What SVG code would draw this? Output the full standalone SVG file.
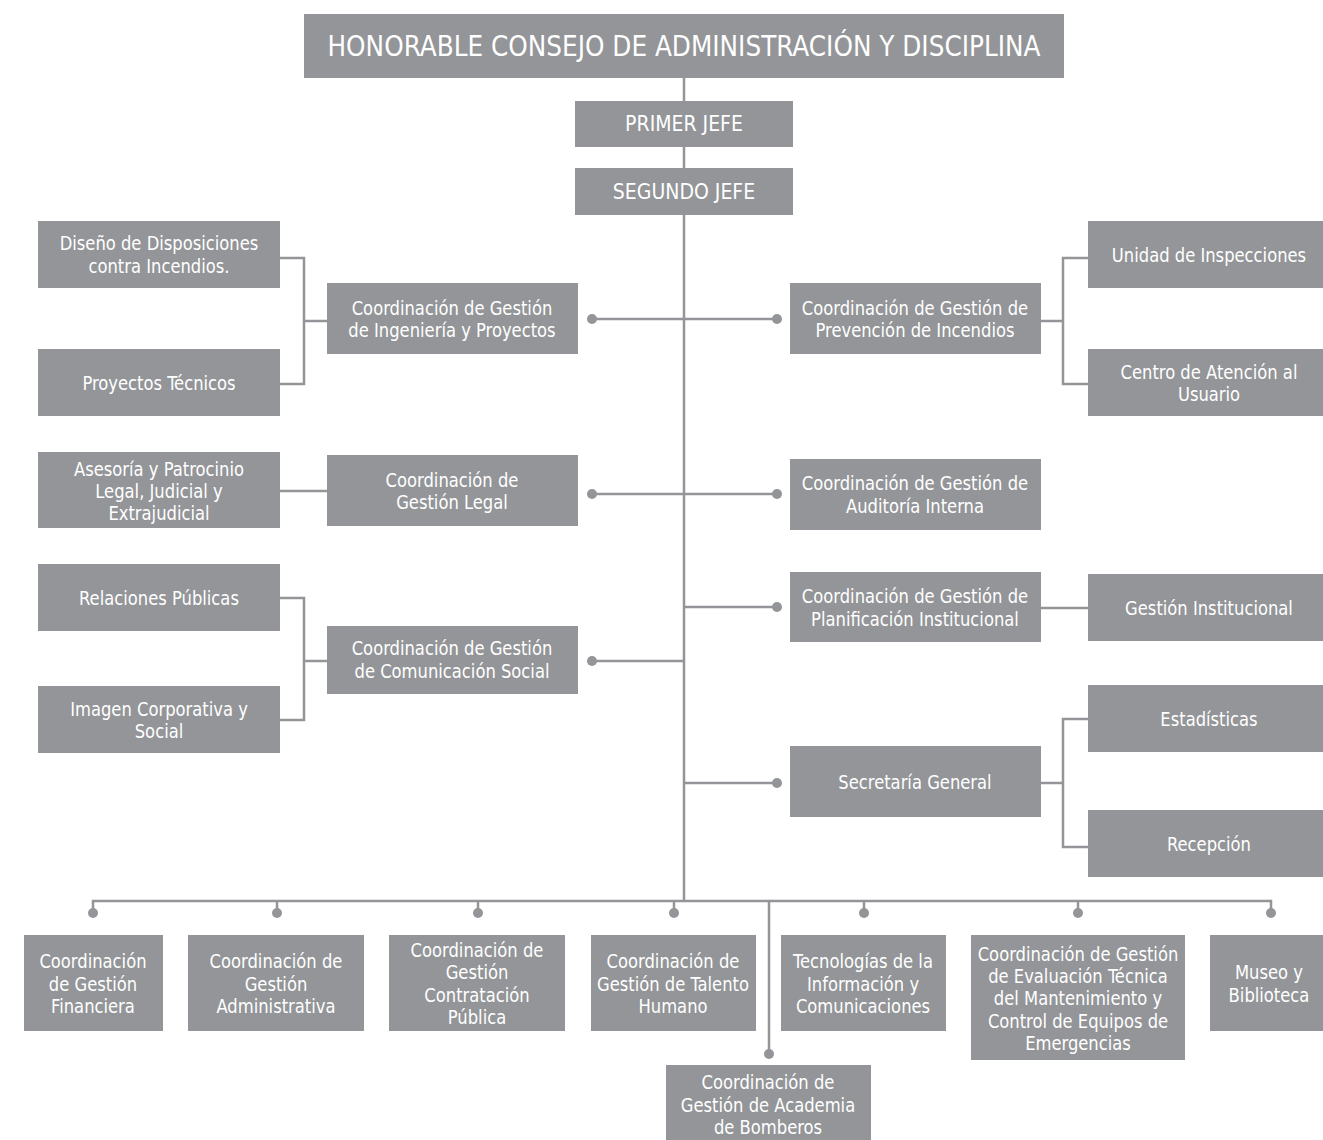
<svg xmlns="http://www.w3.org/2000/svg" width="1323" height="1140" viewBox="0 0 1323 1140">
<style>
.b{fill:#939598}
.t{font-family:"Liberation Sans Narrow","DejaVu Sans Condensed","Liberation Sans",sans-serif;font-size:20px;fill:#fff;text-anchor:middle}
.c{stroke:#939598;stroke-width:2.5;fill:none}
.d{fill:#939598}
</style>
<rect width="1323" height="1140" fill="#fff"/>
<g id="connectors">
<path class="c" d="M684 78V901"/>
<path class="c" d="M592 319H777M592 494H777M684 607H777M592 661H684M684 783H777"/>
<path class="c" d="M280 258H304V384H280M304 321H327"/>
<path class="c" d="M280 491H327"/>
<path class="c" d="M280 598H304V720H280M304 661H327"/>
<path class="c" d="M1088 258H1063V384H1088M1041 321H1063"/>
<path class="c" d="M1041 608H1088"/>
<path class="c" d="M1088 719H1063V847H1088M1041 783H1063"/>
<path class="c" d="M93 913V901H1271V913M277 901V913M478 901V913M674 901V913M864 901V913M1078 901V913M769 901V1054"/>
<g class="d">
<circle cx="592" cy="319" r="5"/><circle cx="777" cy="319" r="5"/>
<circle cx="592" cy="494" r="5"/><circle cx="777" cy="494" r="5"/>
<circle cx="777" cy="607" r="5"/><circle cx="592" cy="661" r="5"/>
<circle cx="777" cy="783" r="5"/>
<circle cx="93" cy="913" r="5"/><circle cx="277" cy="913" r="5"/><circle cx="478" cy="913" r="5"/>
<circle cx="674" cy="913" r="5"/><circle cx="864" cy="913" r="5"/><circle cx="1078" cy="913" r="5"/>
<circle cx="1271" cy="913" r="5"/><circle cx="769" cy="1054" r="5"/>
</g>
</g>
<g id="n-consejo"><rect class="b" x="304" y="14" width="760" height="64"/><g transform="matrix(.95 0 0 1 34.2 0)"><text class="t" x="684" y="56" style="font-size:29px">HONORABLE CONSEJO DE ADMINISTRACIÓN Y DISCIPLINA</text></g></g>
<g id="n-primer"><rect class="b" x="575" y="101" width="218" height="46"/><text class="t" x="684" y="131" style="font-size:21px">PRIMER JEFE</text></g>
<g id="n-segundo"><rect class="b" x="575" y="168" width="218" height="47"/><text class="t" x="684" y="199" style="font-size:21px">SEGUNDO JEFE</text></g>
<g id="n-diseno"><rect class="b" x="38" y="221" width="242" height="67"/><g transform="matrix(.91 0 0 1 14.31 0)"><text class="t" x="159" y="250">Diseño de Disposiciones</text><text class="t" x="159" y="273">contra Incendios.</text></g></g>
<g id="n-proyectos"><rect class="b" x="38" y="349" width="242" height="67"/><g transform="matrix(.91 0 0 1 14.31 0)"><text class="t" x="159" y="390">Proyectos Técnicos</text></g></g>
<g id="n-asesoria"><rect class="b" x="38" y="452" width="242" height="76"/><g transform="matrix(.91 0 0 1 14.31 0)"><text class="t" x="159" y="476">Asesoría y Patrocinio</text><text class="t" x="159" y="498">Legal, Judicial y</text><text class="t" x="159" y="520">Extrajudicial</text></g></g>
<g id="n-relaciones"><rect class="b" x="38" y="564" width="242" height="67"/><g transform="matrix(.91 0 0 1 14.31 0)"><text class="t" x="159" y="605">Relaciones Públicas</text></g></g>
<g id="n-imagen"><rect class="b" x="38" y="686" width="242" height="67"/><g transform="matrix(.91 0 0 1 14.31 0)"><text class="t" x="159" y="716">Imagen Corporativa y</text><text class="t" x="159" y="738">Social</text></g></g>
<g id="n-ingenieria"><rect class="b" x="327" y="283" width="251" height="71"/><g transform="matrix(.91 0 0 1 40.68 0)"><text class="t" x="452" y="315">Coordinación de Gestión</text><text class="t" x="452" y="337">de Ingeniería y Proyectos</text></g></g>
<g id="n-legal"><rect class="b" x="327" y="455" width="251" height="71"/><g transform="matrix(.91 0 0 1 40.68 0)"><text class="t" x="452" y="487">Coordinación de</text><text class="t" x="452" y="509">Gestión Legal</text></g></g>
<g id="n-comunicacion"><rect class="b" x="327" y="626" width="251" height="68"/><g transform="matrix(.91 0 0 1 40.68 0)"><text class="t" x="452" y="655">Coordinación de Gestión</text><text class="t" x="452" y="678">de Comunicación Social</text></g></g>
<g id="n-prevencion"><rect class="b" x="790" y="283" width="251" height="71"/><g transform="matrix(.91 0 0 1 82.35 0)"><text class="t" x="915" y="315">Coordinación de Gestión de</text><text class="t" x="915" y="337">Prevención de Incendios</text></g></g>
<g id="n-auditoria"><rect class="b" x="790" y="459" width="251" height="71"/><g transform="matrix(.91 0 0 1 82.35 0)"><text class="t" x="915" y="490">Coordinación de Gestión de</text><text class="t" x="915" y="513">Auditoría Interna</text></g></g>
<g id="n-planificacion"><rect class="b" x="790" y="572" width="251" height="70"/><g transform="matrix(.91 0 0 1 82.35 0)"><text class="t" x="915" y="603">Coordinación de Gestión de</text><text class="t" x="915" y="626">Planificación Institucional</text></g></g>
<g id="n-secretaria"><rect class="b" x="790" y="746" width="251" height="71"/><g transform="matrix(.91 0 0 1 82.35 0)"><text class="t" x="915" y="789">Secretaría General</text></g></g>
<g id="n-unidad"><rect class="b" x="1088" y="221" width="235" height="67"/><g transform="matrix(.91 0 0 1 108.81 0)"><text class="t" x="1209" y="262">Unidad de Inspecciones</text></g></g>
<g id="n-centro"><rect class="b" x="1088" y="349" width="235" height="67"/><g transform="matrix(.91 0 0 1 108.81 0)"><text class="t" x="1209" y="379">Centro de Atención al</text><text class="t" x="1209" y="401">Usuario</text></g></g>
<g id="n-institucional"><rect class="b" x="1088" y="574" width="235" height="67"/><g transform="matrix(.91 0 0 1 108.81 0)"><text class="t" x="1209" y="615">Gestión Institucional</text></g></g>
<g id="n-estadisticas"><rect class="b" x="1088" y="685" width="235" height="67"/><g transform="matrix(.91 0 0 1 108.81 0)"><text class="t" x="1209" y="726">Estadísticas</text></g></g>
<g id="n-recepcion"><rect class="b" x="1088" y="810" width="235" height="67"/><g transform="matrix(.91 0 0 1 108.81 0)"><text class="t" x="1209" y="851">Recepción</text></g></g>
<g id="n-financiera"><rect class="b" x="24" y="935" width="139" height="96"/><g transform="matrix(.91 0 0 1 8.37 0)"><text class="t" x="93" y="968">Coordinación</text><text class="t" x="93" y="991">de Gestión</text><text class="t" x="93" y="1013">Financiera</text></g></g>
<g id="n-administrativa"><rect class="b" x="188" y="935" width="176" height="96"/><g transform="matrix(.91 0 0 1 24.84 0)"><text class="t" x="276" y="968">Coordinación de</text><text class="t" x="276" y="991">Gestión</text><text class="t" x="276" y="1013">Administrativa</text></g></g>
<g id="n-contratacion"><rect class="b" x="389" y="935" width="176" height="96"/><g transform="matrix(.91 0 0 1 42.93 0)"><text class="t" x="477" y="957">Coordinación de</text><text class="t" x="477" y="979">Gestión</text><text class="t" x="477" y="1002">Contratación</text><text class="t" x="477" y="1024">Pública</text></g></g>
<g id="n-talento"><rect class="b" x="591" y="935" width="165" height="96"/><g transform="matrix(.91 0 0 1 60.57 0)"><text class="t" x="673" y="968">Coordinación de</text><text class="t" x="673" y="991">Gestión de Talento</text><text class="t" x="673" y="1013">Humano</text></g></g>
<g id="n-tecnologias"><rect class="b" x="781" y="935" width="165" height="96"/><g transform="matrix(.91 0 0 1 77.67 0)"><text class="t" x="863" y="968">Tecnologías de la</text><text class="t" x="863" y="991">Información y</text><text class="t" x="863" y="1013">Comunicaciones</text></g></g>
<g id="n-evaluacion"><rect class="b" x="971" y="935" width="214" height="125"/><g transform="matrix(.91 0 0 1 97.02 0)"><text class="t" x="1078" y="961">Coordinación de Gestión</text><text class="t" x="1078" y="983">de Evaluación Técnica</text><text class="t" x="1078" y="1005">del Mantenimiento y</text><text class="t" x="1078" y="1028">Control de Equipos de</text><text class="t" x="1078" y="1050">Emergencias</text></g></g>
<g id="n-museo"><rect class="b" x="1210" y="935" width="113" height="96"/><g transform="matrix(.91 0 0 1 114.21 0)"><text class="t" x="1269" y="979">Museo y</text><text class="t" x="1269" y="1002">Biblioteca</text></g></g>
<g id="n-academia"><rect class="b" x="666" y="1065" width="205" height="75"/><g transform="matrix(.91 0 0 1 69.12 0)"><text class="t" x="768" y="1089">Coordinación de</text><text class="t" x="768" y="1112">Gestión de Academia</text><text class="t" x="768" y="1134">de Bomberos</text></g></g>
</svg>
